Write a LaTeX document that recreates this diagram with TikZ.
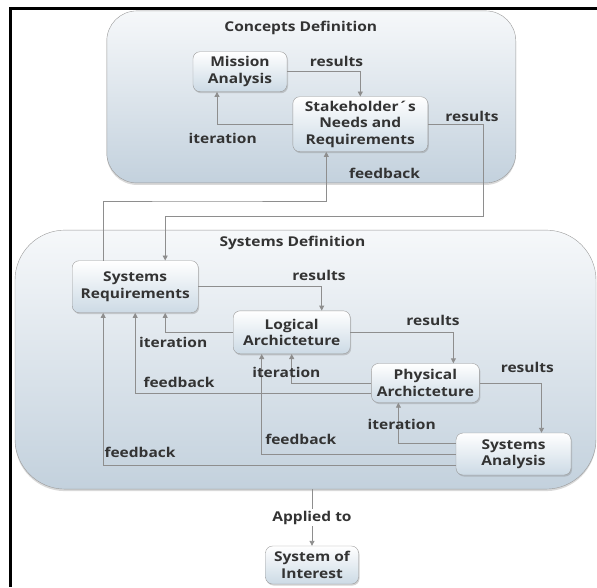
\documentclass[tikz,border=0pt]{standalone}
\usepackage{fontspec}
\newfontfamily\diagfont[FakeStretch=1.15]{Open Sans}
\usetikzlibrary{arrows.meta,shadows}

\definecolor{linegray}{HTML}{8E8E8E}
\definecolor{textgray}{HTML}{333333}
\definecolor{boxedge}{HTML}{9A9A9A}
\definecolor{boxblue}{HTML}{CCDAE5}
\definecolor{panelblue}{HTML}{C3D1DD}
\definecolor{paneltop}{HTML}{F6F8FA}

\begin{document}
\begin{tikzpicture}[x=1pt, y=-1pt,
    box/.style={draw=boxedge, rounded corners=7pt, align=center, inner sep=2pt,
                top color=white, bottom color=boxblue, text=textgray,
                font=\diagfont\bfseries\fontsize{13.5}{16.5}\selectfont,
                drop shadow={shadow xshift=1pt, shadow yshift=-1.5pt, opacity=0.35}},
    panel/.style={draw=boxedge, top color=paneltop, bottom color=panelblue,
                  drop shadow={shadow xshift=0pt, shadow yshift=-2pt, opacity=0.3}},
    lbl/.style={text=textgray, inner sep=1pt,
                font=\diagfont\bfseries\fontsize{13.5}{16.5}\selectfont},
    link/.style={draw=linegray, line width=0.9pt, -{Triangle[length=5pt,width=5pt]}}]
    \useasboundingbox (0,0) rectangle (597,587);

    % Frame edges
    \draw[line width=2.8pt] (597,8.3) -| (10.7,587);

    % Panels
    \node[panel, rounded corners=30pt, minimum width=409pt, minimum height=172pt] (concepts) at (311.3,96.9) {};
    \node[panel, rounded corners=50pt, minimum width=581pt, minimum height=259pt] (sysdef) at (305.5,359.6) {};
    \node[lbl] (conceptsTitle) at (300.8,28.3) {Concepts Definition};
    \node[lbl] (sysdefTitle)   at (292.4,243.3) {Systems Definition};

    % Process boxes - placed at explicit coordinates
    \node[box, minimum width=94pt,  minimum height=40pt] (Mission)  at (240,71.7)   {Mission\\Analysis};
    \node[box, minimum width=135pt, minimum height=55pt] (Stake)    at (360.3,124.2) {Stakeholder´s\\Needs and\\Requirements};
    \node[box, minimum width=126pt, minimum height=52pt] (SysReq)   at (135.2,286.7) {Systems\\Requirements};
    \node[box, minimum width=117pt, minimum height=43pt] (Logical)  at (291.7,332.3) {Logical\\Archicteture};
    \node[box, minimum width=108pt, minimum height=39pt] (Physical) at (425.4,383)   {Physical\\Archicteture};
    \node[box, minimum width=115pt, minimum height=42pt] (SysAna)   at (513.5,454)   {Systems\\Analysis};
    \node[box, minimum width=93pt,  minimum height=38pt] (SoI)      at (312,565)     {System of\\Interest};

    % Bends of the long connectors
    \coordinate (resTurn) at (483.5,216);
    \coordinate (fbTurn)  at (200,201);

    % Concepts definition connectors
    \draw[link] (Mission.east) -| (Stake.north);
    \draw[link] (Stake.west) -| ([xshift=-23pt]Mission.south);
    \draw[link] (Stake.east) -| (resTurn) -| ([xshift=30pt]SysReq.north);
    \draw[link] ([xshift=-32pt]SysReq.north) |- (fbTurn) -| ([xshift=-34pt]Stake.south);

    % Systems definition connectors
    \draw[link] (SysReq.east) -| ([xshift=30pt]Logical.north);
    \draw[link] (Logical.west) -| ([xshift=30pt]SysReq.south);
    \draw[link] (Logical.east) -| ([xshift=28pt]Physical.north);
    \draw[link] (Physical.west) -| (Logical.south);
    \draw[link] ([yshift=-10pt]Physical.west) -| (SysReq.south);
    \draw[link] (Physical.east) -| ([xshift=28pt]SysAna.north);
    \draw[link] ([yshift=11pt]SysAna.west) -| ([xshift=-27pt]Physical.south);
    \draw[link] (SysAna.west) -| ([xshift=-30pt]Logical.south);
    \draw[link] ([yshift=-11.5pt]SysAna.west) -| ([xshift=-32pt]SysReq.south);

    % Applied to
    \draw[link] (SoI.north |- sysdef.south) -- node[lbl, fill=white, inner sep=2pt] (applied) {Applied to} (SoI.north);

    % Connector labels
    \node[lbl] (res1)  at (336.5,61.7)  {results};
    \node[lbl] (it1)   at (222.7,138.5) {iteration};
    \node[lbl] (res2)  at (472,116)     {results};
    \node[lbl] (fb1)   at (384.5,173.3) {feedback};
    \node[lbl] (res3)  at (319,275)     {results};
    \node[lbl] (it2)   at (173.2,342.3) {iteration};
    \node[lbl] (res4)  at (433,320.7)   {results};
    \node[lbl] (it3)   at (286.3,372.7) {iteration};
    \node[lbl] (fb2)   at (179,382.7)   {feedback};
    \node[lbl] (res5)  at (527.3,367.3) {results};
    \node[lbl] (it4)   at (401.7,424)   {iteration};
    \node[lbl] (fb3)   at (300.8,439)   {feedback};
    \node[lbl] (fb4)   at (140,452.3)   {feedback};
\end{tikzpicture}
\end{document}
